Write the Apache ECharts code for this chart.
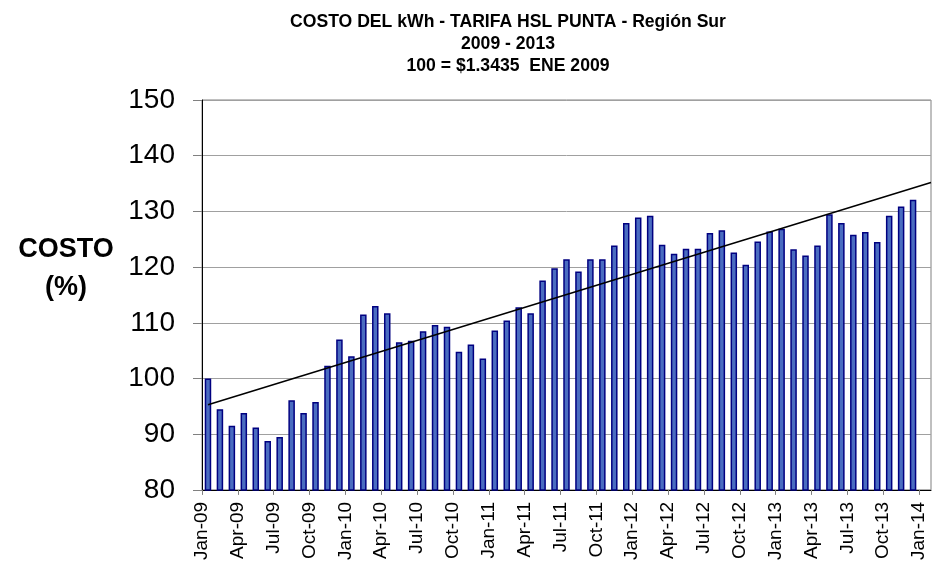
<!DOCTYPE html>
<html>
<head>
<meta charset="utf-8">
<style>
  html, body { margin: 0; padding: 0; background: #fff; }
  #chart { width: 935px; height: 563px; }
</style>
<script src="https://cdn.jsdelivr.net/npm/echarts@6/dist/echarts.min.js"></script>
</head>
<body>
<div id="chart"></div>
<script>
// months Jan-09 .. Dec-13
const months = [
  'Jan-09','Feb-09','Mar-09','Apr-09','May-09','Jun-09','Jul-09','Aug-09','Sep-09','Oct-09','Nov-09','Dec-09',
  'Jan-10','Feb-10','Mar-10','Apr-10','May-10','Jun-10','Jul-10','Aug-10','Sep-10','Oct-10','Nov-10','Dec-10',
  'Jan-11','Feb-11','Mar-11','Apr-11','May-11','Jun-11','Jul-11','Aug-11','Sep-11','Oct-11','Nov-11','Dec-11',
  'Jan-12','Feb-12','Mar-12','Apr-12','May-12','Jun-12','Jul-12','Aug-12','Sep-12','Oct-12','Nov-12','Dec-12',
  'Jan-13','Feb-13','Mar-13','Apr-13','May-13','Jun-13','Jul-13','Aug-13','Sep-13','Oct-13','Nov-13','Dec-13'
]
const costo = [
  100.0, 94.5, 91.5, 93.8, 91.2, 88.8, 89.5, 96.1, 93.8, 95.8, 102.3, 107.0,
  104.0, 111.5, 113.0, 111.7, 106.5, 106.8, 108.5, 109.6, 109.3, 104.8, 106.1, 103.6,
  108.6, 110.4, 112.8, 111.7, 117.6, 119.8, 121.4, 119.2, 121.4, 121.4, 123.9, 127.9,
  128.9, 129.2, 124.0, 122.4, 123.3, 123.3, 126.1, 126.6, 122.6, 120.4, 124.6, 126.4,
  126.9, 123.2, 122.1, 123.9, 129.5, 127.9, 125.8, 126.3, 124.5, 129.2, 130.9, 132.1
]
const tickLabels = [
  'Jan-09','Apr-09','Jul-09','Oct-09','Jan-10','Apr-10','Jul-10','Oct-10','Jan-11','Apr-11','Jul-11',
  'Oct-11','Jan-12','Apr-12','Jul-12','Oct-12','Jan-13','Apr-13','Jul-13','Oct-13','Jan-14'
]
// trend line ends (month position, value)
const trendStart = [0.5, 95.3]
const trendEnd = [61, 135.2]

const font = 'Arial, "Liberation Sans", sans-serif'
const tickPos = tickLabels.map((t, i) => i * 3)

const chart = echarts.init(document.getElementById('chart'))
chart.setOption({
  animation: false,
  title: [
    {
      text: 'COSTO DEL kWh - TARIFA HSL PUNTA - Región Sur\n2009 - 2013\n100 = $1.3435  ENE 2009',
      left: 508,
      top: 11,
      textAlign: 'center',
      padding: 0,
      textStyle: { fontFamily: font, fontSize: 17.6, fontWeight: 'bold', color: '#000', lineHeight: 22 }
    },
    {
      text: 'COSTO\n(%)',
      left: 66,
      top: 231,
      textAlign: 'center',
      padding: 0,
      textStyle: { fontFamily: font, fontSize: 27, fontWeight: 'bold', color: '#000', lineHeight: 38 }
    }
  ],
  grid: { left: 202, right: 4, top: 100, bottom: 73, show: true, borderColor: '#808080', borderWidth: 1 },
  xAxis: {
    type: 'value',
    min: 0,
    max: 61,
    interval: 3,
    axisLine: { lineStyle: { color: '#000', width: 1 } },
    axisTick: { show: true, length: 5, customValues: tickPos, lineStyle: { color: '#808080' } },
    splitLine: { show: false },
    axisLabel: {
      customValues: tickPos,
      rotate: 90,
      margin: 12,
      fontFamily: font,
      fontSize: 19,
      color: '#000',
      formatter: v => tickLabels[Math.round(v / 3)] || ''
    }
  },
  yAxis: {
    type: 'value',
    min: 80,
    max: 150,
    interval: 10,
    axisLine: { show: true, lineStyle: { color: '#000', width: 1 } },
    axisTick: { show: true, length: 9, lineStyle: { color: '#808080' } },
    splitLine: { lineStyle: { color: '#a0a0a0', width: 1 } },
    axisLabel: { margin: 27, fontFamily: font, fontSize: 28, color: '#000' }
  },
  series: [
    {
      name: 'COSTO',
      type: 'bar',
      barWidth: 6.5,
      data: costo.map((v, i) => [i + 0.5, v]),
      itemStyle: { color: '#4a6cc0', borderColor: '#000080', borderWidth: 1.5 }
    },
    {
      name: 'Tendencia',
      type: 'line',
      data: [trendStart, trendEnd],
      symbol: 'none',
      lineStyle: { color: '#000', width: 1.5 },
      z: 5
    }
  ]
})
</script>
</body>
</html>
